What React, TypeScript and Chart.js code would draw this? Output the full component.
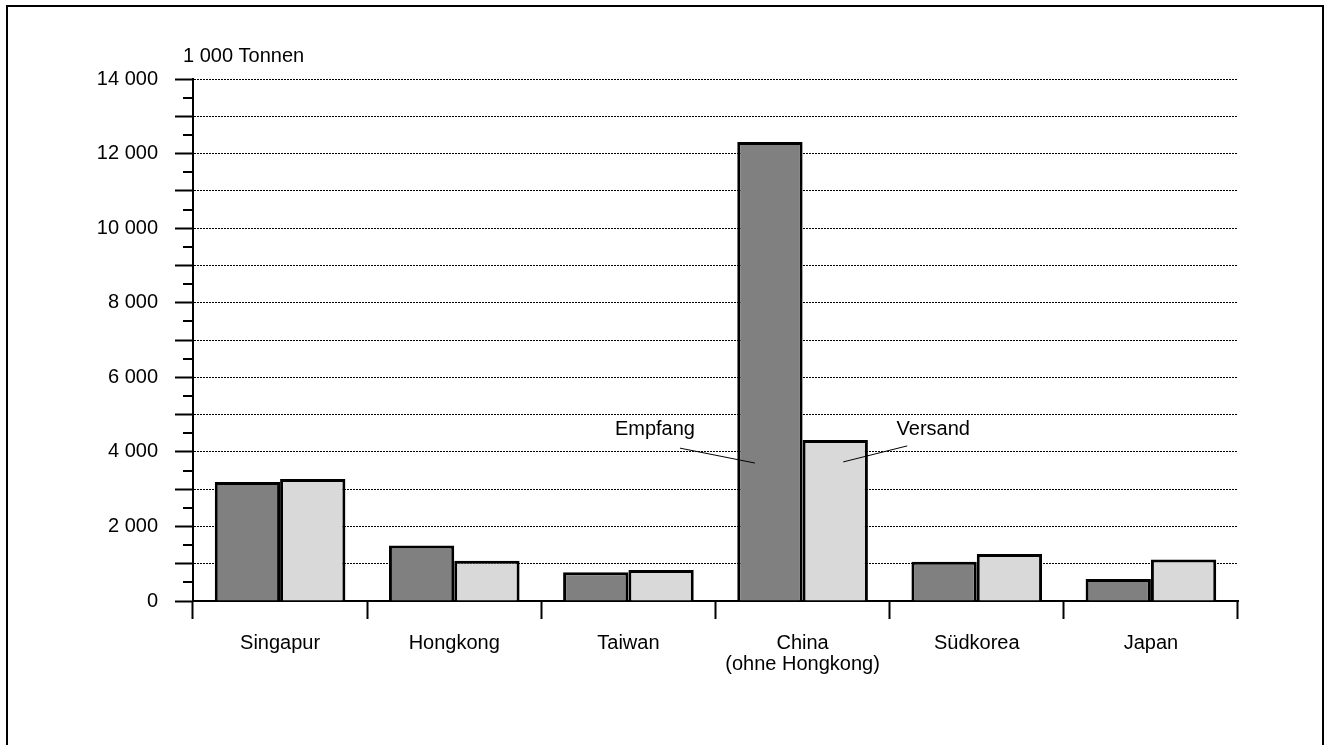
import React, { useEffect, useRef } from "react";
import { Chart, registerables } from "chart.js";

Chart.register(...registerables);

const CATEGORIES: (string | string[])[] = [
  "Singapur",
  "Hongkong",
  "Taiwan",
  ["China", "(ohne Hongkong)"],
  "Südkorea",
  "Japan",
];
const EMPFANG = [3190, 1490, 770, 12310, 1050, 590];
const VERSAND = [3270, 1080, 830, 4320, 1260, 1110];
const SERIES_NAMES = ["Empfang", "Versand"];
const Y_MIN = 0;
const Y_MAX = 14000;
const Y_STEP = 500;
const UNIT_LABEL = "1 000 Tonnen";

const FONT = "'Liberation Sans', Arial, sans-serif";

const fmt = (v: number) =>
  String(v).replace(/\B(?=(\d{3})+(?!\d))/g, " ");

const extrasPlugin = {
  id: "extras",
  afterDraw(chart: any) {
    const { ctx, chartArea, scales } = chart;
    const y = scales.y;
    ctx.save();
    // minor ticks
    ctx.strokeStyle = "#000";
    ctx.lineWidth = 2;
    for (let v = Y_MIN + Y_STEP; v < Y_MAX; v += 2 * Y_STEP) {
      const py = Math.round(y.getPixelForValue(v));
      ctx.beginPath();
      ctx.moveTo(chartArea.left - 10, py);
      ctx.lineTo(chartArea.left, py);
      ctx.stroke();
    }
    // unit label
    ctx.fillStyle = "#000";
    ctx.font = `20px ${FONT}`;
    ctx.textAlign = "left";
    ctx.textBaseline = "alphabetic";
    ctx.fillText(UNIT_LABEL, chartArea.left - 10, chartArea.top - 17);

    // series annotations on China bars
    const notes = [
      { ds: 0, idx: 3, text: SERIES_NAMES[0], tx: -115, tv: 4590, sx: -90, sv: 4100, ex: -15, ev: 3700 },
      { ds: 1, idx: 3, text: SERIES_NAMES[1], tx: 98, tv: 4590, sx: 72, sv: 4160, ex: 8, ev: 3730 },
    ];
    ctx.lineWidth = 1;
    ctx.textAlign = "center";
    ctx.textBaseline = "middle";
    for (const n of notes) {
      const bar = chart.getDatasetMeta(n.ds).data[n.idx];
      const bx = bar.x;
      ctx.fillText(n.text, bx + n.tx, y.getPixelForValue(n.tv));
      ctx.beginPath();
      ctx.moveTo(bx + n.sx, y.getPixelForValue(n.sv));
      ctx.lineTo(bx + n.ex, y.getPixelForValue(n.ev));
      ctx.stroke();
    }
    ctx.restore();
  },
};

export default function App() {
  const ref = useRef<HTMLCanvasElement | null>(null);

  useEffect(() => {
    if (!ref.current) return;
    Chart.defaults.font.family = FONT;
    Chart.defaults.font.size = 20;
    Chart.defaults.color = "#000";
    const chart = new Chart(ref.current, {
      type: "bar",
      data: {
        labels: CATEGORIES,
        datasets: [
          {
            label: SERIES_NAMES[0],
            data: EMPFANG,
            backgroundColor: "#808080",
            borderColor: "#000",
            borderWidth: 3,
            categoryPercentage: 0.75,
            barPercentage: 1,
          },
          {
            label: SERIES_NAMES[1],
            data: VERSAND,
            backgroundColor: "#d9d9d9",
            borderColor: "#000",
            borderWidth: 3,
            categoryPercentage: 0.75,
            barPercentage: 1,
          },
        ],
      },
      options: {
        animation: false,
        responsive: false,
        devicePixelRatio: 1,
        layout: { padding: { left: 0, right: 86, top: 79, bottom: 0 } },
        plugins: {
          legend: { display: false },
          tooltip: { enabled: false },
          title: { display: false },
        },
        scales: {
          x: {
            type: "category",
            offset: true,
            grid: {
              offset: true,
              drawOnChartArea: false,
              drawTicks: true,
              tickLength: 18,
              tickColor: "#000",
              tickWidth: 2,
            },
            border: { display: true, color: "#000", width: 2 },
            ticks: {
              padding: 14,
              maxRotation: 0,
              autoSkip: false,
              font: { size: 20, lineHeight: 1.05 },
            },
            afterFit: (s: any) => {
              s.height = 144;
            },
          },
          y: {
            min: Y_MIN,
            max: Y_MAX,
            ticks: {
              stepSize: Y_STEP,
              padding: 17,
              autoSkip: false,
              callback: (v: any) => (Number(v) % 2000 === 0 ? fmt(Number(v)) : ""),
              font: { size: 20 },
            },
            grid: {
              drawTicks: true,
              tickLength: 18,
              tickWidth: 2,
              tickBorderDash: [],
              lineWidth: 1,
              color: (c: any) =>
                c.tick && c.tick.value % 1000 === 0 && c.tick.value !== 0 ? "#000" : "rgba(0,0,0,0)",
              tickColor: (c: any) =>
                c.tick && c.tick.value % 1000 === 0 ? "#000" : "rgba(0,0,0,0)",
            },
            border: { display: true, color: "#000", width: 2, dash: [2, 1] },
            afterFit: (s: any) => {
              s.width = 193;
            },
          },
        },
      },
      plugins: [extrasPlugin],
    });
    return () => chart.destroy();
  }, []);

  return (
    <div
      style={{
        position: "fixed",
        left: 0,
        top: 0,
        width: 1324,
        height: 745,
        overflow: "hidden",
        background: "#fff",
      }}
    >
      <div
        style={{
          position: "absolute",
          left: 6,
          top: 5,
          width: 1318,
          height: 780,
          border: "2px solid #000",
          boxSizing: "border-box",
        }}
      />
      <canvas
        ref={ref}
        width={1324}
        height={745}
        style={{ position: "absolute", left: 0, top: 0, width: 1324, height: 745 }}
      />
    </div>
  );
}
